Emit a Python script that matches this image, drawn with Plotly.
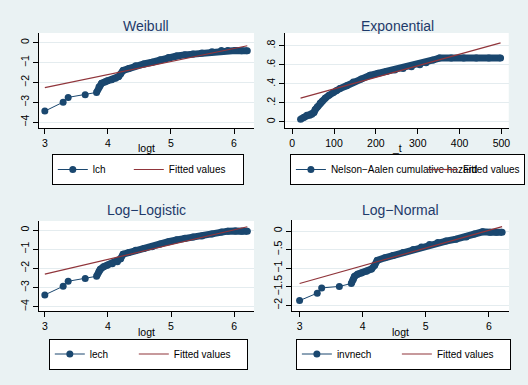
import plotly.graph_objects as go

# ---------------- data ----------------
weib_logt = [3.00, 3.29, 3.37, 3.64, 3.82, 3.86, 3.90, 3.95, 3.99, 4.06, 4.12, 4.17, 4.20, 4.24,
             4.33, 4.44, 4.57, 4.70, 4.83, 4.96, 5.09, 5.22, 5.35, 5.49, 5.65, 5.80, 5.90, 6.02,
             6.12, 6.21]
weib_lch = [-3.44, -2.99, -2.75, -2.62, -2.50, -2.21, -2.04, -1.97, -1.91, -1.86, -1.79, -1.70,
            -1.57, -1.40, -1.30, -1.16, -1.07, -0.98, -0.86, -0.74, -0.67, -0.61, -0.57, -0.52,
            -0.45, -0.39, -0.39, -0.39, -0.40, -0.40]
weib_fit_x = [3.00, 6.21]
weib_fit_y = [-2.26, -0.15]

exp_t = [20, 28, 35, 42, 47, 52, 55, 60, 67, 72, 79, 88, 98, 106, 114, 130, 146, 165, 186, 205,
         225, 245, 265, 285, 305, 320, 337, 352, 380, 410, 440, 470, 498]
exp_na = [0.03, 0.05, 0.07, 0.07, 0.08, 0.10, 0.13, 0.16, 0.20, 0.22, 0.25, 0.28, 0.31, 0.33,
          0.35, 0.38, 0.42, 0.45, 0.49, 0.51, 0.53, 0.545, 0.56, 0.58, 0.60, 0.62, 0.65, 0.67,
          0.67, 0.67, 0.67, 0.67, 0.67]
exp_fit_x = [20, 498]
exp_fit_y = [0.25, 0.83]

ll_logt = [3.00, 3.29, 3.37, 3.64, 3.82, 3.86, 3.88, 3.93, 3.99, 4.07, 4.15, 4.20, 4.24, 4.33,
           4.44, 4.57, 4.70, 4.83, 4.96, 5.09, 5.22, 5.35, 5.49, 5.65, 5.80, 5.90, 6.02, 6.12,
           6.21]
ll_lech = [-3.38, -2.93, -2.67, -2.53, -2.41, -2.15, -2.04, -1.92, -1.83, -1.76, -1.66, -1.50,
           -1.26, -1.17, -1.06, -0.96, -0.87, -0.73, -0.61, -0.51, -0.43, -0.37, -0.31, -0.21,
           -0.10, -0.06, -0.05, -0.06, -0.07]
ll_fit_x = [3.00, 6.21]
ll_fit_y = [-2.30, 0.17]

ln_logt = [3.00, 3.28, 3.35, 3.63, 3.82, 3.85, 3.87, 3.92, 3.98, 4.06, 4.14, 4.19, 4.23, 4.35,
           4.48, 4.64, 4.80, 4.93, 5.06, 5.19, 5.32, 5.48, 5.64, 5.77, 5.90, 6.02, 6.12, 6.21]
ln_invnech = [-1.87, -1.67, -1.53, -1.49, -1.41, -1.30, -1.22, -1.16, -1.13, -1.08, -1.02, -0.92,
              -0.79, -0.72, -0.66, -0.58, -0.50, -0.43, -0.36, -0.31, -0.27, -0.22, -0.16, -0.08,
              -0.02, -0.03, -0.03, -0.03]
ln_fit_x = [3.00, 6.21]
ln_fit_y = [-1.41, 0.12]

logt_ticks = [3, 4, 5, 6]
weib_yticks = [0, -1, -2, -3, -4]
exp_xticks = [0, 100, 200, 300, 400, 500]
exp_yticks = [0, 0.2, 0.4, 0.6, 0.8]
exp_yticktext = ["0", ".2", ".4", ".6", ".8"]
ll_yticks = [0, -1, -2, -3, -4]
ln_yticks = [0, -0.5, -1, -1.5, -2]
ln_yticktext = ["0", "\u2212.5", "\u22121", "\u22121.5", "\u22122"]

titles = ["Weibull", "Exponential", "Log\u2212Logistic", "Log\u2212Normal"]
xtitles = ["logt", "_t", "logt", "logt"]
series_names = ["lch", "Nelson\u2212Aalen cumulative hazard", "lech", "invnech"]

# ---------------- style ----------------
W, H = 528, 385
NAVY = "#1a476f"
MAROON = "#90353b"
BG = "#eaf2f3"
GRID = "#e4ecef"
TITLE_C = "#1e3a6a"
FONT = "Liberation Sans, Arial, sans-serif"

def px_x(p):
    return p / W

def px_y(p):
    return 1 - p / H

panels = [
    dict(x=weib_logt, y=weib_lch, fx=weib_fit_x, fy=weib_fit_y, band=4,
         dom=(39, 255, 33, 128), xr=[2.905, 6.317], yr=[-4.29, 0.49],
         xt=logt_ticks, yt=weib_yticks, ytt=None,
         title=(147, 26), xtitle=(147, 148), leg=(52, 169.5), lw=(31, 69)),
    dict(x=exp_t, y=exp_na, fx=exp_fit_x, fy=exp_fit_y, band=0,
         dom=(286, 510.7, 33, 128), xr=[-17.4, 517.6], yr=[-0.063, 0.933],
         xt=exp_xticks, yt=exp_yticks, ytt=exp_yticktext,
         title=(399, 26), xtitle=(399, 148), leg=(291, 169.5), lw=(87, 56)),
    dict(x=ll_logt, y=ll_lech, fx=ll_fit_x, fy=ll_fit_y, band=4,
         dom=(39, 255, 221, 311), xr=[2.905, 6.316], yr=[-4.22, 0.47],
         xt=logt_ticks, yt=ll_yticks, ytt=None,
         title=(147, 210), xtitle=(147, 332), leg=(49, 354), lw=(39, 68)),
    dict(x=ln_logt, y=ln_invnech, fx=ln_fit_x, fy=ln_fit_y, band=4,
         dom=(293, 511, 220, 311), xr=[2.878, 6.32], yr=[-2.15, 0.296],
         xt=logt_ticks, yt=ln_yticks, ytt=ln_yticktext,
         title=(402, 210), xtitle=(402, 332), leg=(297, 354), lw=(55, 68)),
]

fig = go.Figure()
annotations = []
layout = dict(
    width=W, height=H, margin=dict(l=0, r=0, t=0, b=0),
    paper_bgcolor=BG, plot_bgcolor="white",
    font=dict(family=FONT, size=10, color="black"),
)

for i, p in enumerate(panels):
    n = "" if i == 0 else str(i + 1)
    xa, ya = "x" + n, "y" + n
    leg = "legend" + n
    # dense band of overlapping markers
    fig.add_trace(go.Scatter(
        x=p["x"][p["band"]:], y=p["y"][p["band"]:], mode="lines",
        line=dict(color=NAVY, width=7), xaxis=xa, yaxis=ya,
        showlegend=False, hoverinfo="skip"))
    fig.add_trace(go.Scatter(
        x=p["x"], y=p["y"], mode="lines+markers", name=series_names[i],
        line=dict(color=NAVY, width=1), marker=dict(color=NAVY, size=7),
        xaxis=xa, yaxis=ya, legend=leg, legendwidth=p["lw"][0]))
    fig.add_trace(go.Scatter(
        x=p["fx"], y=p["fy"], mode="lines", name="Fitted values",
        line=dict(color=MAROON, width=1.2), xaxis=xa, yaxis=ya, legend=leg,
        legendwidth=p["lw"][1]))

    x0, x1, y0, y1 = p["dom"]
    axcommon = dict(showline=True, linecolor="black", linewidth=1, ticks="outside",
                    ticklen=5, tickcolor="black", tickwidth=1, zeroline=False,
                    tickfont=dict(size=10.5, color="black"))
    layout["xaxis" + n] = dict(
        domain=[px_x(x0), px_x(x1)], range=p["xr"], anchor=ya, showgrid=False,
        tickmode="array", tickvals=p["xt"], **axcommon)
    ydict = dict(
        domain=[px_y(y1), px_y(y0)], range=p["yr"], anchor=xa, showgrid=True,
        gridcolor=GRID, gridwidth=1, tickmode="array", tickvals=p["yt"], tickangle=-90,
        **axcommon)
    if p["ytt"] is not None:
        ydict["ticktext"] = p["ytt"]
    layout["yaxis" + n] = ydict

    layout[leg] = dict(
        x=px_x(p["leg"][0]), y=px_y(p["leg"][1]), xanchor="left", yanchor="middle",
        orientation="h", bgcolor="white", bordercolor="black", borderwidth=1,
        font=dict(size=10, color="black"), itemwidth=30,
        entrywidthmode="pixels", tracegroupgap=0)

    annotations.append(dict(
        text=titles[i], x=px_x(p["title"][0]), y=px_y(p["title"][1]), xref="paper",
        yref="paper", showarrow=False, xanchor="center", yanchor="middle",
        font=dict(size=14, color=TITLE_C)))
    annotations.append(dict(
        text=xtitles[i], x=px_x(p["xtitle"][0]), y=px_y(p["xtitle"][1]), xref="paper",
        yref="paper", showarrow=False, xanchor="center", yanchor="middle",
        font=dict(size=10.5, color="black")))

layout["annotations"] = annotations
fig.update_layout(**layout)
fig.write_html("out.html")
